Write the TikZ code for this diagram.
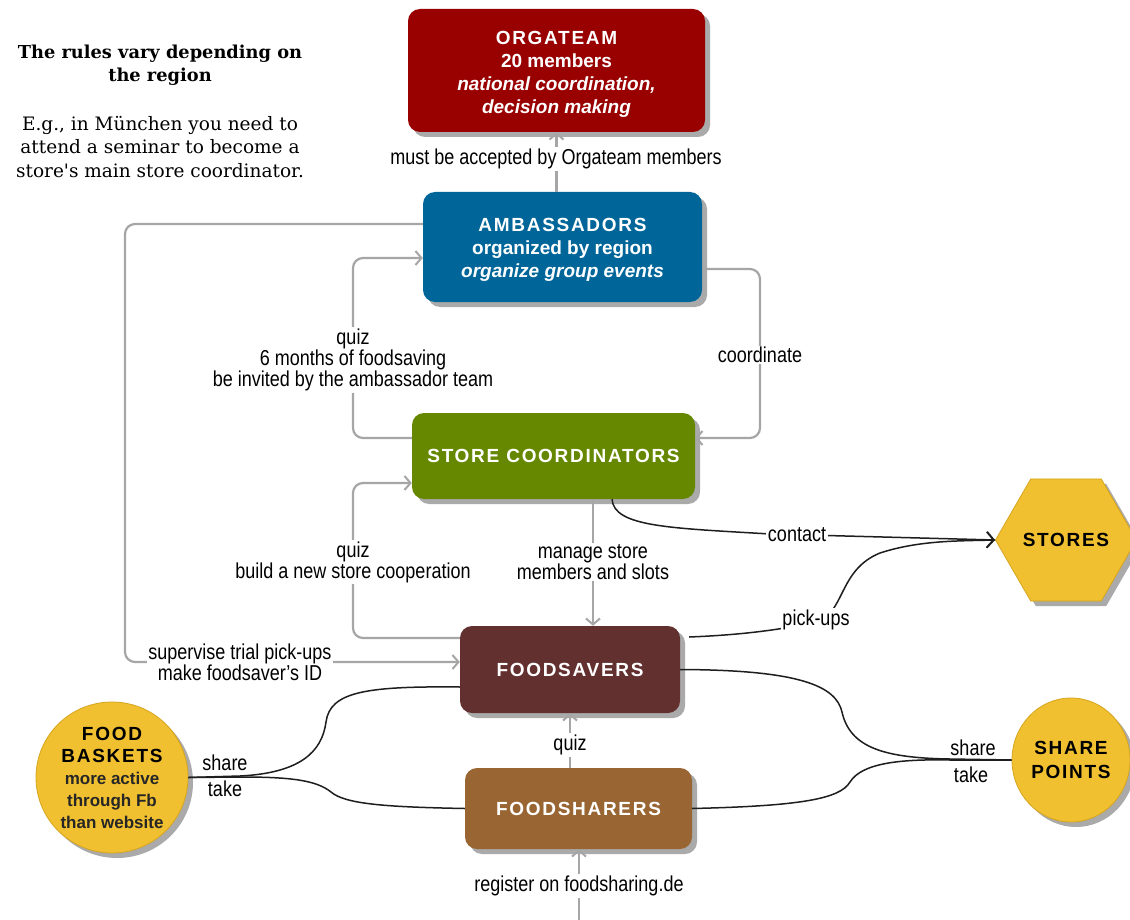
\documentclass[tikz,border=0pt]{standalone}
\usepackage{fontspec}
\usepackage{graphicx}
\setmainfont{Liberation Sans}
\newfontfamily\notefont{DejaVu Serif}
\newfontfamily\capsfont[LetterSpace=9]{Liberation Sans}
\usetikzlibrary{arrows.meta,shapes.geometric,shadows}
\definecolor{orgred}{RGB}{153,0,0}
\definecolor{ambblue}{RGB}{0,102,153}
\definecolor{scgreen}{RGB}{102,136,0}
\definecolor{fsavbrown}{RGB}{99,48,48}
\definecolor{fshbrown}{RGB}{153,102,51}
\definecolor{hiveyellow}{RGB}{240,192,48}
\definecolor{hiveedge}{RGB}{214,165,30}
\definecolor{linegray}{RGB}{166,166,166}
\definecolor{shadowgray}{RGB}{170,170,170}
\definecolor{curveblack}{RGB}{30,30,30}
\newcommand{\capsword}[1]{{\capsfont\bfseries #1}}
\newcommand{\tallline}[1]{\scalebox{1}[1.2]{#1}}
\tikzset{
  boxshadow/.style={drop shadow={shadow xshift=5pt,shadow yshift=-5pt,fill=shadowgray,opacity=1}},
  rolebox/.style={rectangle,rounded corners=12pt,boxshadow,text=white,align=center,
    font=\fontsize{19}{23}\selectfont\bfseries,inner sep=0pt},
  yellowshape/.style={fill=hiveyellow,draw=hiveedge,line width=0.8pt,boxshadow,align=center,inner sep=0pt},
  grayconn/.style={draw=linegray,line width=2.2pt,rounded corners=10pt},
  grayarrow/.style={grayconn,-{Straight Barb[length=6pt,width=14pt,line width=2pt]}},
  blackconn/.style={draw=curveblack,line width=1.5pt},
  lbl/.style={fill=white,inner sep=1.5pt,align=center,font=\fontsize{18}{21}\selectfont},
  plainlbl/.style={inner sep=0pt,align=center,font=\fontsize{18}{21}\selectfont},
}
\begin{document}
\begin{tikzpicture}[x=1pt,y=-1pt]
\useasboundingbox[fill=white] (0,0) rectangle (1130,920);

% note text
\node[align=center,font=\notefont\bfseries\fontsize{17.8}{23}\selectfont] (rulestitle) at (160,65)
  {The rules vary depending on\\the region};
\node[align=center,font=\notefont\fontsize{18.5}{23.5}\selectfont] (rulesnote) at (160,147)
  {E.g., in München you need to\\attend a seminar to become a\\store's main store coordinator.};

% boxes
\node[rolebox,fill=orgred,minimum width=297pt,minimum height=123pt] (org) at (556.5,70.5)
  {\rule{0pt}{20pt}\capsword{ORGATEAM}\\20 members\\\textit{national coordination,}\\\textit{decision making}};
\node[rolebox,fill=ambblue,minimum width=279pt,minimum height=110pt] (amb) at (562.5,247)
  {\rule{0pt}{18pt}\capsword{AMBASSADORS}\\organized by region\\\textit{organize group events}};
\node[rolebox,fill=scgreen,minimum width=283pt,minimum height=86pt] (sc) at (553.5,456)
  {\capsword{STORE COORDINATORS}};
\node[rolebox,fill=fsavbrown,minimum width=220pt,minimum height=87pt] (fsav) at (570,669.5)
  {\capsword{FOODSAVERS}};
\node[rolebox,fill=fshbrown,minimum width=227pt,minimum height=81pt] (fsh) at (578.5,808.5)
  {\capsword{FOODSHARERS}};

% yellow shapes
\node[yellowshape,regular polygon,regular polygon sides=6,minimum size=128pt,
  font=\fontsize{19}{23}\selectfont\bfseries] (stores) at (1066,540) {\capsword{STORES}};
\node[yellowshape,ellipse,minimum width=152pt,minimum height=151pt,
  font=\fontsize{17}{22}\selectfont\bfseries] (fb) at (112,777.5)
  {{\fontsize{19}{22}\selectfont\capsword{FOOD}}\\{\fontsize{19}{22}\selectfont\capsword{BASKETS}}\\
   {\color{black!85}more active}\\
   {\color{black!85}through Fb}\\
   {\color{black!85}than website}};
\node[yellowshape,ellipse,minimum width=118pt,minimum height=124pt,
  font=\fontsize{19}{24}\selectfont\bfseries] (sp) at (1071,760) {\capsword{SHARE}\\\capsword{POINTS}};

% gray connectors
\draw[grayarrow] (org.south |- amb.north) -- (org.south);
\node[lbl] (lblorg) at (556,159) {\tallline{must be accepted by Orgateam members}};

\draw[grayarrow] ([yshift=23pt]amb.west) -| (125,662) -- ([yshift=7.5pt]fsav.west);
\node[lbl] (lblsup) at (240,662) {\tallline{supervise trial pick-ups}\\\tallline{make foodsaver's ID}};

\draw[grayarrow] ([yshift=18pt]sc.west) -| (353,258) -- ([yshift=-11pt]amb.west);
\node[lbl] (lblquizamb) at (353,360) {\tallline{quiz}\\\tallline{6 months of foodsaving}\\\tallline{be invited by the ambassador team}};

\draw[grayarrow] ([yshift=-22pt]amb.east) -| (760,438) -- ([yshift=18pt]sc.east);
\node[lbl] (lblcoord) at (760,355) {\tallline{coordinate}};

\draw[grayarrow] ([yshift=31.5pt]fsav.west) -| (353,483) -- ([yshift=-27pt]sc.west);
\node[lbl] (lblquizsc) at (353,562) {\tallline{quiz}\\\tallline{build a new store cooperation}};

\draw[grayarrow] (sc.south -| 593,0) -- (fsav.north -| 593,0);
\node[lbl] (lblmanage) at (593,562) {\tallline{manage store}\\\tallline{members and slots}};

\draw[grayarrow] (fsh.north -| 570,0) -- (fsav.south -| 570,0);
\node[lbl] (lblquizfs) at (570,745) {\tallline{quiz}};

\coordinate (regstart) at (579,922);
\draw[grayarrow] (regstart) -- (fsh.south -| regstart);
\node[lbl] (lblreg) at (579,886) {\tallline{register on foodsharing.de}};

% black curves
\draw[blackconn] ([xshift=9pt,yshift=32.5pt]fsav.east)
  .. controls (740,635) and (780,630) .. (816,622)
  .. controls (845,614) and (838,570) .. (880,553)
  .. controls (920,540) and (960,541) .. (stores.west);
\draw[blackconn,-{Straight Barb[length=7pt,width=16pt,line width=2pt]}] ([xshift=58.5pt]sc.south)
  .. controls (614,527) and (670,528) .. (770,534) -- (stores.west);
\node[lbl] (lblcontact) at (797,535) {\tallline{contact}};
\node[lbl] (lblpick) at (816,620) {\tallline{pick-ups}};

\draw[blackconn] ([yshift=-17.5pt]fsav.west)
  .. controls (365,686) and (330,692) .. (326,722)
  .. controls (322,752) and (300,773) .. (240,776) -- (fb.east);
\draw[blackconn] (fsh.west)
  .. controls (385,807) and (345,804) .. (331,792)
  .. controls (316,780) and (290,777) .. (240,777) -- (fb.east);
\node[plainlbl] (lblfbshare) at (225,763) {\tallline{share}};
\node[plainlbl] (lblfbtake) at (225,789) {\tallline{take}};

\draw[blackconn] (fsav.east)
  .. controls (800,670) and (836,686) .. (842,712)
  .. controls (850,748) and (885,758) .. (950,759) -- (sp.west);
\draw[blackconn] (fsh.east)
  .. controls (800,806) and (840,799) .. (850,782)
  .. controls (862,763) and (900,759) .. (950,760) -- (sp.west);
\node[plainlbl] (lblspshare) at (973,748) {\tallline{share}};
\node[plainlbl] (lblsptake) at (971,775) {\tallline{take}};
\end{tikzpicture}
\end{document}
